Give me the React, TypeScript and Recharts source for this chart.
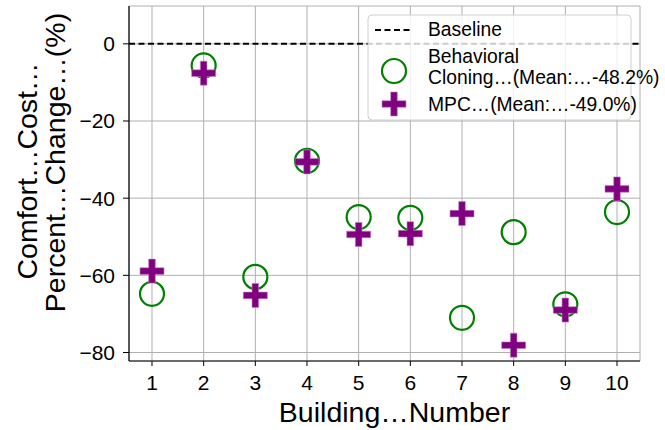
import {
  ScatterChart,
  Scatter,
  XAxis,
  YAxis,
  CartesianGrid,
  ReferenceLine,
  Label,
} from "recharts";

const buildings = [1, 2, 3, 4, 5, 6, 7, 8, 9, 10];
const bcValues = [-64.8, -5.6, -60.4, -30.3, -44.9, -45.1, -71.0, -48.8, -67.5, -43.6];
const mpcValues = [-58.9, -7.6, -65.2, -30.6, -49.4, -49.2, -44.0, -78.1, -69.0, -37.6];
const yTicks = [-80, -60, -40, -20, 0];

const bcData = buildings.map((b, i) => ({ building: b, value: bcValues[i] }));
const mpcData = buildings.map((b, i) => ({ building: b, value: mpcValues[i] }));

const mean = (arr: number[]) => arr.reduce((s, v) => s + v, 0) / arr.length;

const FONT = '"Liberation Sans", Arial, sans-serif';
const GREEN = "#008000";
const PURPLE = "#800080";

const CircleMarker = (props: any) => {
  const { cx, cy } = props;
  return <circle cx={cx} cy={cy} r={12} fill="none" stroke={GREEN} strokeWidth={2.2} />;
};

const plusPath = (cx: number, cy: number, a = 12, t = 3.3) =>
  `M${cx - t},${cy - a}H${cx + t}V${cy - t}H${cx + a}V${cy + t}H${cx + t}V${cy + a}H${cx - t}V${cy + t}H${cx - a}V${cy - t}H${cx - t}Z`;

const PlusMarker = (props: any) => {
  const { cx, cy } = props;
  return <path d={plusPath(cx, cy)} fill={PURPLE} stroke="#c080c0" strokeWidth={0.6} />;
};

const fmtTick = (v: number) => (v < 0 ? `\u2212${Math.abs(v)}` : `${v}`);

const XTitle = () => (
  <text x={394.5} y={422} textAnchor="middle" fontSize={28.5} fontFamily={FONT} fill="#000">
    Building…Number
  </text>
);

const YTitle = () => (
  <g fontSize={28.5} fontFamily={FONT} fill="#000">
    <text transform="translate(37,171) rotate(-90)" textAnchor="middle">
      Comfort…Cost…
    </text>
    <text transform="translate(65,162.5) rotate(-90)" textAnchor="middle">
      Percent…Change…(%)
    </text>
  </g>
);

const LegendBox = () => (
  <svg
    width={665}
    height={430}
    style={{ position: "absolute", left: 0, top: 0, pointerEvents: "none" }}
  >
    <rect x={368} y={15} width={263} height={105} rx={4} fill="#fff" fillOpacity={0.8} stroke="#d0d0d0" />
    <g fontSize={19.3} fontFamily={FONT} fill="#000">
      <line x1={375} x2={413} y1={30} y2={30} stroke="#000" strokeWidth={2} strokeDasharray="6 3.5" />
      <text x={428} y={36}>Baseline</text>
      <CircleMarker cx={394} cy={71} />
      <text x={428} y={63}>Behavioral</text>
      <text x={428} y={84}>{`Cloning…(Mean:…${mean(bcValues).toFixed(1)}%)`}</text>
      <PlusMarker cx={394} cy={104} />
      <text x={428} y={111}>{`MPC…(Mean:…${mean(mpcValues).toFixed(1)}%)`}</text>
    </g>
  </svg>
);

export default function App() {
  return (
    <div style={{ position: "absolute", left: 0, top: 0, width: 665, height: 430, background: "#fff" }}>
      <ScatterChart width={665} height={430} margin={{ top: 6, right: 25, left: 0, bottom: 0 }}>
        <CartesianGrid stroke="#b0b0b0" strokeWidth={1} />
        <XAxis
          type="number"
          dataKey="building"
          domain={[0.555, 10.445]}
          ticks={buildings}
          allowDataOverflow
          height={69}
          tickSize={5}
          tickMargin={9}
          axisLine={{ stroke: "#000", strokeWidth: 1.2 }}
          tickLine={{ stroke: "#000" }}
          tick={{ fill: "#000", fontSize: 21, fontFamily: FONT }}
        >
          <Label content={<XTitle />} />
        </XAxis>
        <XAxis
          xAxisId="top"
          orientation="top"
          type="number"
          domain={[0.555, 10.445]}
          height={0}
          tick={false}
          tickLine={false}
          axisLine={{ stroke: "#000", strokeWidth: 1.2 }}
        />
        <YAxis
          type="number"
          dataKey="value"
          domain={[-82.2, 9.8]}
          ticks={yTicks}
          allowDataOverflow
          width={129}
          tickSize={6}
          tickMargin={8}
          tickFormatter={fmtTick}
          axisLine={{ stroke: "#000", strokeWidth: 1.2 }}
          tickLine={{ stroke: "#000" }}
          tick={{ fill: "#000", fontSize: 21, fontFamily: FONT }}
        >
          <Label content={<YTitle />} />
        </YAxis>
        <YAxis
          yAxisId="right"
          orientation="right"
          type="number"
          domain={[-82.2, 9.8]}
          width={0}
          tick={false}
          tickLine={false}
          axisLine={{ stroke: "#000", strokeWidth: 1.2 }}
        />
        <ReferenceLine y={0} stroke="#000" strokeWidth={2} strokeDasharray="6 3.5" />
        <Scatter data={bcData} shape={<CircleMarker />} isAnimationActive={false} />
        <Scatter data={mpcData} shape={<PlusMarker />} isAnimationActive={false} />
      </ScatterChart>
      <LegendBox />
    </div>
  );
}
